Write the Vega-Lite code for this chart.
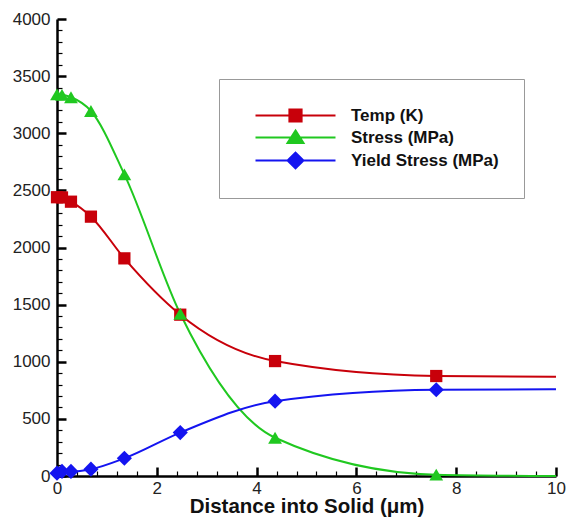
{
  "$schema": "https://vega.github.io/schema/vega-lite/v6.json",
  "width": 499,
  "height": 457,
  "autosize": {"type": "none"},
  "padding": {"left": 57, "top": 19, "right": 13, "bottom": 42},
  "background": "white",
  "config": {"view": {"stroke": null}, "font": "Liberation Sans"},
  "data": {
    "values": [
      {"series": "Temp (K)", "x": 0, "y": 2440, "marker": true},
      {"series": "Temp (K)", "x": 0.1, "y": 2438, "marker": true},
      {"series": "Temp (K)", "x": 0.28, "y": 2401, "marker": true},
      {"series": "Temp (K)", "x": 0.68, "y": 2270, "marker": true},
      {"series": "Temp (K)", "x": 1.35, "y": 1905, "marker": true},
      {"series": "Temp (K)", "x": 2.47, "y": 1412, "marker": true},
      {"series": "Temp (K)", "x": 4.37, "y": 1006, "marker": true},
      {"series": "Temp (K)", "x": 7.6, "y": 875, "marker": true},
      {"series": "Temp (K)", "x": 10, "y": 868, "marker": false},
      {"series": "Stress (MPa)", "x": 0, "y": 3340, "marker": true},
      {"series": "Stress (MPa)", "x": 0.1, "y": 3336, "marker": true},
      {"series": "Stress (MPa)", "x": 0.28, "y": 3315, "marker": true},
      {"series": "Stress (MPa)", "x": 0.68, "y": 3195, "marker": true},
      {"series": "Stress (MPa)", "x": 1.35, "y": 2640, "marker": true},
      {"series": "Stress (MPa)", "x": 2.47, "y": 1420, "marker": true},
      {"series": "Stress (MPa)", "x": 4.37, "y": 335, "marker": true},
      {"series": "Stress (MPa)", "x": 7.6, "y": 12, "marker": true},
      {"series": "Stress (MPa)", "x": 10, "y": 0, "marker": false},
      {"series": "Yield Stress (MPa)", "x": 0, "y": 25, "marker": true},
      {"series": "Yield Stress (MPa)", "x": 0.1, "y": 40, "marker": true},
      {"series": "Yield Stress (MPa)", "x": 0.28, "y": 40, "marker": true},
      {"series": "Yield Stress (MPa)", "x": 0.68, "y": 60, "marker": true},
      {"series": "Yield Stress (MPa)", "x": 1.35, "y": 155, "marker": true},
      {"series": "Yield Stress (MPa)", "x": 2.47, "y": 380, "marker": true},
      {"series": "Yield Stress (MPa)", "x": 4.37, "y": 655, "marker": true},
      {"series": "Yield Stress (MPa)", "x": 7.6, "y": 755, "marker": true},
      {"series": "Yield Stress (MPa)", "x": 10, "y": 760, "marker": false}
    ]
  },
  "resolve": {
    "axis": {"x": "independent", "y": "independent"},
    "scale": {"shape": "independent"},
    "legend": {"color": "independent", "shape": "independent", "stroke": "independent"}
  },
  "layer": [
    {
      "mark": {"type": "line", "interpolate": "monotone", "strokeWidth": 2},
      "encoding": {
        "x": {
          "field": "x", "type": "quantitative",
          "scale": {"domain": [0, 10], "nice": false, "zero": false},
          "axis": {
            "orient": "bottom",
            "values": [0, 2, 4, 6, 8, 10],
            "format": "d",
            "ticks": false,
            "domainColor": "black",
            "domainWidth": 2.5,
            "grid": false,
            "labelOverlap": false,
            "labelFlush": false,
            "labelFontSize": 17,
            "labelColor": "#222",
            "labelPadding": 4,
            "title": "Distance into Solid (μm)",
            "titleFontSize": 20.5,
            "titleFontWeight": "bold",
            "titleColor": "#111",
            "titlePadding": 0
          }
        },
        "y": {
          "field": "y", "type": "quantitative",
          "scale": {"domain": [0, 4000], "nice": false},
          "axis": {
            "orient": "left",
            "values": [0, 500, 1000, 1500, 2000, 2500, 3000, 3500, 4000],
            "format": "d",
            "ticks": false,
            "domainColor": "black",
            "domainWidth": 2.5,
            "grid": false,
            "labelOverlap": false,
            "labelFlush": false,
            "labelFontSize": 17,
            "labelColor": "#222",
            "labelPadding": 7,
            "title": null
          }
        },
        "color": {
          "field": "series", "type": "nominal",
          "scale": {"domain": ["Temp (K)", "Stress (MPa)", "Yield Stress (MPa)"], "range": ["#c8000a", "#20c820", "#1414f0"]},
          "legend": null
        }
      }
    },
    {
      "transform": [{"filter": "datum.marker"}],
      "mark": {"type": "point", "filled": true, "opacity": 1},
      "encoding": {
        "x": {
          "field": "x", "type": "quantitative",
          "axis": {
            "orient": "top",
            "offset": -457,
            "values": [0, 2, 4, 6, 8, 10],
            "labels": false,
            "domain": false,
            "tickSize": 9,
            "tickWidth": 2.5,
            "tickColor": "black",
            "grid": false,
            "title": null
          }
        },
        "y": {
          "field": "y", "type": "quantitative",
          "axis": {
            "orient": "right",
            "offset": -499,
            "values": [0, 500, 1000, 1500, 2000, 2500, 3000, 3500, 4000],
            "labels": false,
            "domain": false,
            "tickSize": 9,
            "tickWidth": 2.5,
            "tickColor": "black",
            "grid": false,
            "title": null
          }
        },
        "color": {"field": "series", "type": "nominal", "legend": null},
        "shape": {
          "field": "series", "type": "nominal",
          "scale": {"domain": ["Temp (K)", "Stress (MPa)", "Yield Stress (MPa)"], "range": ["square", "triangle-up", "diamond"]},
          "legend": null
        },
        "size": {
          "field": "series", "type": "nominal",
          "scale": {"domain": ["Temp (K)", "Stress (MPa)", "Yield Stress (MPa)"], "range": [150, 230, 240]},
          "legend": null
        }
      }
    },
    {
      "transform": [{"filter": "false"}],
      "mark": {"type": "point", "filled": true, "opacity": 1},
      "encoding": {
        "x": {
          "field": "x", "type": "quantitative",
          "axis": {
            "orient": "top",
            "offset": -457,
            "values": [0.4,0.8,1.2,1.6,2.4,2.8,3.2,3.6,4.4,4.8,5.2,5.6,6.4,6.8,7.2,7.6,8.4,8.8,9.2,9.6],
            "labels": false,
            "domain": false,
            "tickSize": 5,
            "tickWidth": 1.2,
            "tickColor": "black",
            "grid": false,
            "title": null
          }
        },
        "y": {
          "field": "y", "type": "quantitative",
          "axis": {
            "orient": "right",
            "offset": -499,
            "values": [100,200,300,400,600,700,800,900,1100,1200,1300,1400,1600,1700,1800,1900,2100,2200,2300,2400,2600,2700,2800,2900,3100,3200,3300,3400,3600,3700,3800,3900],
            "labels": false,
            "domain": false,
            "tickSize": 5,
            "tickWidth": 1.2,
            "tickColor": "black",
            "grid": false,
            "title": null
          }
        },
        "color": {
          "field": "series", "type": "nominal",
          "legend": {
            "orient": "none", "legendX": 162, "legendY": 60,
            "title": null, "padding": 25, "strokeColor": "#999", "fillColor": "white",
            "labelFont": "Liberation Sans", "labelFontSize": 17, "labelFontWeight": "bold", "labelColor": "#111",
            "symbolSize": 400, "labelOffset": 84, "rowPadding": 0, "symbolStrokeWidth": 2.2
          }
        },
        "stroke": {
          "field": "series", "type": "nominal",
          "scale": {"domain": ["Temp (K)", "Stress (MPa)", "Yield Stress (MPa)"], "range": ["#c8000a", "#20c820", "#1414f0"]},
          "legend": {
            "orient": "none", "legendX": 162, "legendY": 60,
            "title": null, "padding": 25, "strokeColor": "#999", "fillColor": "white",
            "labelFont": "Liberation Sans", "labelFontSize": 17, "labelFontWeight": "bold", "labelColor": "#111",
            "symbolSize": 400, "labelOffset": 84, "rowPadding": 0, "symbolStrokeWidth": 2.2
          }
        },
        "shape": {
          "field": "series", "type": "nominal",
          "scale": {"domain": ["Temp (K)", "Stress (MPa)", "Yield Stress (MPa)"], "range": ["M0,0H8M3.4,-0.6H4.6V0.6H3.4Z", "M0,0H8M4,-0.68L4.78,0.55H3.22Z", "M0,0H8M4,-0.78L4.78,0L4,0.78L3.22,0Z"]},
          "legend": {
            "orient": "none", "legendX": 162, "legendY": 60,
            "title": null, "padding": 25, "strokeColor": "#999", "fillColor": "white",
            "labelFont": "Liberation Sans", "labelFontSize": 17, "labelFontWeight": "bold", "labelColor": "#111",
            "symbolSize": 400, "labelOffset": 84, "rowPadding": 0, "symbolStrokeWidth": 2.2
          }
        }
      }
    }
  ]
}
